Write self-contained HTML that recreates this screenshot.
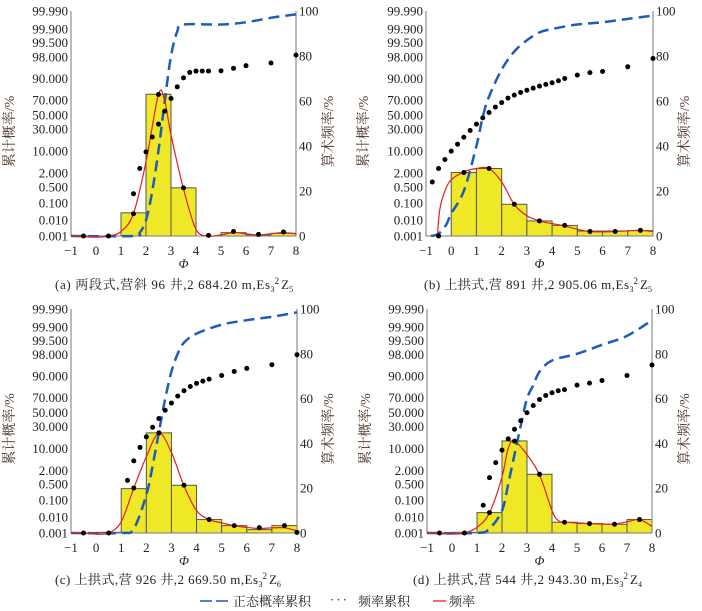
<!DOCTYPE html>
<html><head><meta charset="utf-8"><style>
html,body{margin:0;padding:0;background:#fff;}
svg{display:block;font-family:"Liberation Serif","Noto Serif CJK SC",serif;}
</style></head><body>
<svg id="chart" width="702" height="611" viewBox="0 0 702 611" xmlns="http://www.w3.org/2000/svg"></svg>
<script>
// ---- shared axis data ----
const xTicks = [-1,0,1,2,3,4,5,6,7,8];
const rightTicks = [0,20,40,60,80,100];
const leftTickLabels = ["99.990","99.900","99.500","98.000","90.000","70.000","50.000","30.000","10.000","2.000","0.500","0.100","0.010","0.001"];
const leftTickValues = [100,92,86,79.6,70,60.4,53.8,47.6,37.8,28,21.8,14.7,7.1,0];
const binEdges = [-1,0,1,2,3,4,5,6,7,8];

// ---- panel a ----
const barsA = [0,0,10.3,63,21.4,0,1.5,0.5,1.2];
const dotsAx = [-0.5,0.5,1.5,1.5,1.75,2.0,2.25,2.5,2.5,2.75,3.0,3.25,3.5,3.5,3.75,4.0,4.25,4.5,4.5,5.0,5.5,5.5,6.0,6.5,7.0,7.5,8.0];
const dotsAy = [0,0,18.8,9.9,30,37.4,44,49.7,62.9,55.5,61.1,66.3,21.4,70.3,72.7,73.3,73.3,73.3,0.3,73.4,74.5,2,75.7,0.7,76.9,1.8,80.4];
const redAx = [-1,0,0.5,1,1.5,2,2.5,2.75,3,3.5,4,4.5,5,5.5,6,6.5,7,7.5,8];
const redAy = [0,-0.5,0,2,10,33,63,60,45,21,3,0,0.5,1.5,1,0.5,1,1.5,1];
const blueAx = [-1,1.5,1.75,2,2.25,2.5,2.75,3,3.25,3.5,5,6,7,8];
const blueAy = [0,0,1.5,7,20,38,60,80,91,94,94,95,97,98.5];

// ---- panel b ----
const barsB = [0,28.2,30,14.1,6.7,4.7,2.2,2.2,2.4];
const dotsBx = [-0.75,-0.5,-0.25,0,0.25,0.5,0.75,1,1.25,1.5,1.75,2,2.25,2.5,2.75,3,3.25,3.5,3.75,4,4.25,4.5,5,5.5,6,7,8,-0.5,0.5,1.5,2.5,3.5,4.5,5.5,6.5,7.5];
const dotsBy = [24,30,34,37.7,40.8,43.9,46.9,49.7,52.5,54.9,57.3,59.3,61.3,62.6,63.8,64.8,65.7,66.6,67.4,68.1,69,70,71.5,72.6,73.1,75.2,78.9,0,28.2,30,14.1,6.7,4.7,2,2,2.5];
const redBx = [-0.55,-0.45,-0.25,0,0.5,1,1.5,2,2.5,3,3.5,4,4.5,5,5.5,6,6.5,7,7.5,8];
const redBy = [0,12,20,25,28.5,30,30,24,14,9,6.7,5.5,4.5,3,2,1.8,2,2.3,2.5,2];
const blueBx = [-0.8,-0.5,-0.2,0,0.5,1,1.25,1.5,2,2.5,3,3.5,4,5,6,7,8];
const blueBy = [0,1,5,10,20,40,53,62,74,82,87,90.5,92,94,95,96.5,98];

// ---- panel c ----
const barsC = [0,0.3,19.8,44.7,21.3,6,3.3,1.5,3.3];
const dotsCx = [-0.5,0.5,1.25,1.5,1.5,1.75,2.0,2.25,2.5,2.5,2.75,3,3.25,3.5,3.5,3.75,4,4.25,4.5,4.5,5,5.5,5.5,6,6.5,7,7.5,8,8];
const dotsCy = [0,0,23.5,32.2,20.1,38.2,42.9,47.2,51.1,44.7,54.8,58,61.1,63.5,21.3,65.4,66.8,67.8,68.7,6,70.3,72.1,3.3,73.5,2.4,75.1,3.3,79.6,0.3];
const redCx = [-1,-0.5,0,0.5,1,1.5,2,2.5,3,3.5,4,4.5,5,5.5,6,6.5,7,7.5,8];
const redCy = [0,0,-0.5,0,5,20,34,44.5,36,21,10,6,4.5,3.3,2.5,2,2.3,2.3,1];
const blueCx = [-1,1,1.5,2,2.25,2.5,2.75,3,3.25,3.5,4,5,6,7,8];
const blueCy = [0,0,2,17,30,45,60,72,80,85,89,93,95,96.5,98.5];

// ---- panel d ----
const barsD = [0,0.3,9.1,41.1,26.2,4.8,4.2,3.9,6];
const dotsDx = [-0.5,0.5,1.25,1.5,1.5,1.75,2,2.25,2.5,2.5,2.75,3,3.25,3.5,3.5,3.75,4,4.25,4.5,4.5,5,5.5,5.5,6,6.5,7,7.5,8];
const dotsDy = [0,0,12.4,24.7,9.1,31.4,37,42,41,46.3,50.1,53.7,56.9,59.6,26.2,61.4,62.6,63.5,64,4.8,66,66.9,4.2,68.1,3.9,70.3,6,75];
const redDx = [-1,0,0.5,1,1.5,2,2.25,2.5,3,3.5,4,4.25,4.5,5,5.5,6,6.5,7,7.5,8];
const redDy = [0,-0.5,0,2.5,9,25,38,41,35,26,10,5.5,4.8,4.5,4.2,4,4,5,6,3];
const blueDx = [-1,1,1.5,2,2.25,2.5,2.75,3,3.25,3.5,4,5,6,7,8];
const blueDy = [0,0,2,10,22,35,48,60,66,72,77,80,84,88,95];

const NS = "http://www.w3.org/2000/svg";
const svg = document.getElementById('chart');
function mk(tag, attrs, parent){
  const e = document.createElementNS(NS, tag);
  for (const k in attrs) e.setAttribute(k, attrs[k]);
  (parent||svg).appendChild(e);
  return e;
}
function smooth(pts){
  let d = "M"+pts[0][0].toFixed(1)+","+pts[0][1].toFixed(1);
  for (let i=0;i<pts.length-1;i++){
    const p0=pts[Math.max(0,i-1)], p1=pts[i], p2=pts[i+1], p3=pts[Math.min(pts.length-1,i+2)];
    const c1x=p1[0]+(p2[0]-p0[0])/6, c1y=p1[1]+(p2[1]-p0[1])/6;
    const c2x=p2[0]-(p3[0]-p1[0])/6, c2y=p2[1]-(p3[1]-p1[1])/6;
    d+=" C"+c1x.toFixed(1)+","+c1y.toFixed(1)+" "+c2x.toFixed(1)+","+c2y.toFixed(1)+" "+p2[0].toFixed(1)+","+p2[1].toFixed(1);
  }
  return d;
}

const panels = [
  {id:"a", L:71, T:11, W:225, H:225, bars:barsA, dx:dotsAx, dy:dotsAy, rx:redAx, ry:redAy, bx:blueAx, by:blueAy,
   cap:["(a) 两段式,营斜 96 井,2 684.20 m,Es","3","2","Z","5"], capL:55, capY:289, capW:215, ltX:14, rtX:333},
  {id:"b", L:426, T:11, W:227, H:225, bars:barsB, dx:dotsBx, dy:dotsBy, rx:redBx, ry:redBy, bx:blueBx, by:blueBy,
   cap:["(b) 上拱式,营 891 井,2 905.06 m,Es","3","2","Z","5"], capL:424, capY:289, capW:205, ltX:368, rtX:689},
  {id:"c", L:71, T:309, W:226, H:224, bars:barsC, dx:dotsCx, dy:dotsCy, rx:redCx, ry:redCy, bx:blueCx, by:blueCy,
   cap:["(c) 上拱式,营 926 井,2 669.50 m,Es","3","2","Z","6"], capL:55, capY:584, capW:203, ltX:14, rtX:333},
  {id:"d", L:427, T:309, W:225, H:224, bars:barsD, dx:dotsDx, dy:dotsDy, rx:redDx, ry:redDy, bx:blueDx, by:blueDy,
   cap:["(d) 上拱式,营 544 井,2 943.30 m,Es","3","2","Z","4"], capL:413, capY:584, capW:206, ltX:370, rtX:689}
];

panels.forEach(p=>{
  const g = mk('g', {});
  
  
  const X = v => p.L + (v+1)/9*p.W;
  const Y = v => p.T + p.H - v/100*p.H;

  p.bars.forEach((v,i)=>{
    if (v<=0) return;
    const r = mk('rect', {x:X(binEdges[i]), y:Y(v), width:X(binEdges[i+1])-X(binEdges[i]), height:Y(0)-Y(v), fill:"#efe826", stroke:"#555", "stroke-width":1}, g);
    
    
  });
  const ax = mk('path', {d:`M${p.L},${p.T} V${p.T+p.H} H${p.L+p.W} V${p.T}`, fill:"none", stroke:"#777", "stroke-width":1}, g);
  
  

  const bl = mk('path', {d:smooth(p.bx.map((x,i)=>[X(x),Y(p.by[i])])), fill:"none", stroke:"#1d5cb8", "stroke-width":2.5, "stroke-dasharray":"11,6"}, g);
  
  
  const rl = mk('path', {d:smooth(p.rx.map((x,i)=>[X(x),Y(p.ry[i])])), fill:"none", stroke:"#e41e1e", "stroke-width":1.2}, g);
  
  
  p.dx.forEach((x,i)=>{
    const c = mk('circle', {cx:X(x), cy:Y(p.dy[i]), r:2.5, fill:"#000"}, g);
    
    
  });
  xTicks.forEach(t=>{
    const tx = mk('text', {x:X(t), y:p.T+p.H+19, "text-anchor":"middle", "font-size":13, fill:"#222"}, g);
    tx.textContent = t<0 ? "\u2212"+Math.abs(t) : String(t);
    
    
  });
  rightTicks.forEach(t=>{
    const tx = mk('text', {x:p.L+p.W+3, y:Y(t)+4.5, "font-size":13, fill:"#222"}, g);
    tx.textContent = String(t);
    
    
  });
  leftTickLabels.forEach((lab,i)=>{
    const tx = mk('text', {x:p.L-3, y:Y(leftTickValues[i])+4.5, "text-anchor":"end", "font-size":13, fill:"#222"}, g);
    tx.textContent = lab;
    
    
  });
  const cy = p.T + p.H/2 + 8;
  const lt = mk('text', {x:p.ltX, y:cy, "text-anchor":"middle", "font-size":14, fill:"#4a3328", transform:`rotate(-90 ${p.ltX} ${cy})`}, g);
  lt.textContent = "累计概率/%";
  
  
  const rt = mk('text', {x:p.rtX, y:cy, "text-anchor":"middle", "font-size":14, fill:"#4a3328", transform:`rotate(-90 ${p.rtX} ${cy})`}, g);
  rt.textContent = "算术频率/%";
  
  
  const xt = mk('text', {x:p.L+p.W/2, y:p.T+p.H+32, "text-anchor":"middle", "font-size":13, "font-style":"italic", fill:"#222"}, g);
  xt.textContent = "Φ";
  
  
  const cp = mk('text', {x:p.capL, y:p.capY, "font-size":13, fill:"#222"}, g);
  
  
  const s1 = mk('tspan', {textLength:p.capW, lengthAdjust:"spacing"}, cp); s1.textContent = p.cap[0];
  const s2 = mk('tspan', {dy:3, "font-size":8}, cp); s2.textContent = p.cap[1];
  const s3 = mk('tspan', {dy:-8, "font-size":9}, cp); s3.textContent = p.cap[2];
  const s4 = mk('tspan', {dy:5, dx:2}, cp); s4.textContent = p.cap[3];
  const s5 = mk('tspan', {dy:3, "font-size":8}, cp); s5.textContent = p.cap[4];
});
</script>
<script>
(function(){
  const NS="http://www.w3.org/2000/svg";
  const svg=document.getElementById('chart');
  const g=document.createElementNS(NS,'g');
  
  
  svg.appendChild(g);
  function add(tag,a){const e=document.createElementNS(NS,tag);for(const k in a)e.setAttribute(k,a[k]);g.appendChild(e);return e;}
  const l1=add('line',{x1:200,y1:601,x2:228,y2:601,stroke:"#1d5cb8","stroke-width":1.5,"stroke-dasharray":"12,4"});
  
  
  const t1=add('text',{x:233,y:606,"font-size":13,fill:"#222"});t1.textContent="正态概率累积";
  
  
  const t2=add('text',{x:330,y:604,"font-size":13,fill:"#222","letter-spacing":"2"});t2.textContent="···";
  
  
  const t3=add('text',{x:358,y:606,"font-size":13,fill:"#222"});t3.textContent="频率累积";
  
  
  const l2=add('line',{x1:433,y1:601,x2:446,y2:601,stroke:"#e41e1e","stroke-width":1.3});
  
  
  const t4=add('text',{x:449,y:606,"font-size":13,fill:"#222"});t4.textContent="频率";
  
  
})();
</script>
</body></html>
